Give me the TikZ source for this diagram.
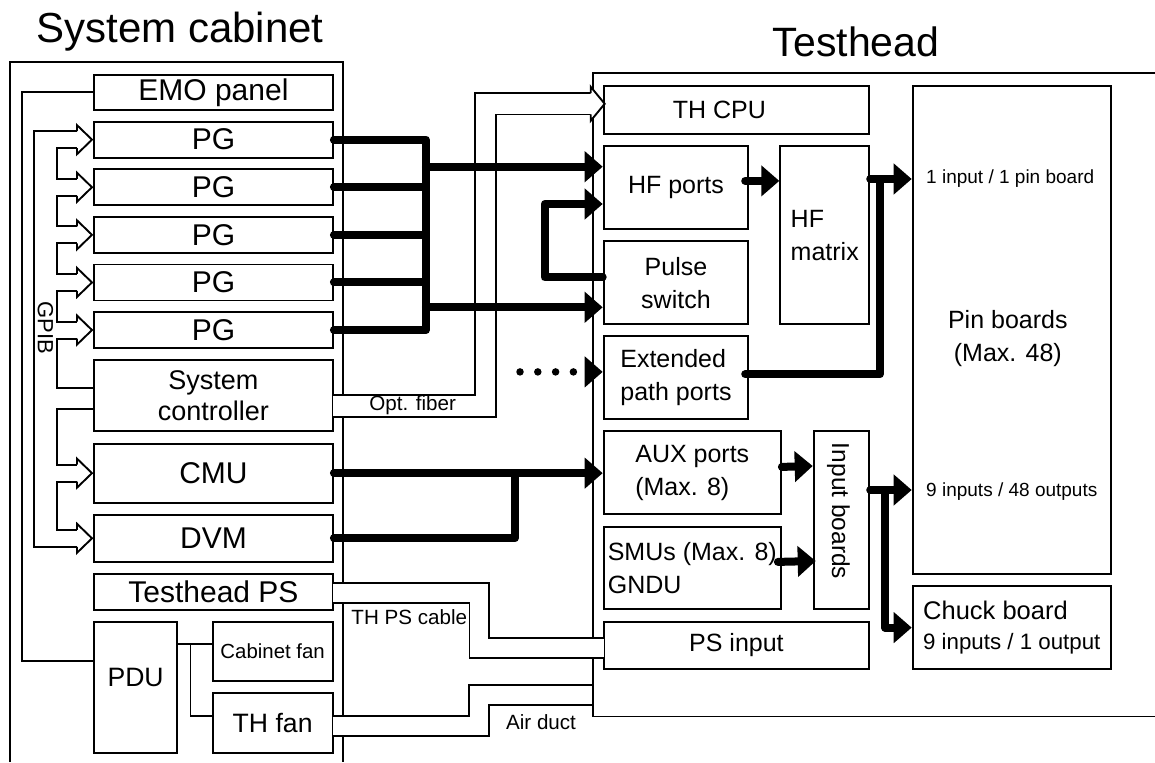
\documentclass[tikz,border=0pt]{standalone}
\usepackage{fontspec}
\setmainfont{Liberation Sans}
\usetikzlibrary{arrows.meta,calc,positioning}

\begin{document}
\begin{tikzpicture}[
  x=1pt, y=-1pt,
  box/.style={draw, line width=1.9pt, inner sep=0pt, anchor=north west, align=center},
  bigtext/.style={font=\fontsize{30}{34}\selectfont},
  midtext/.style={font=\fontsize{25}{33}\selectfont},
  cabletext/.style={font=\fontsize{20.6}{24}\selectfont},
  pintext/.style={font=\fontsize{19}{22}\selectfont},
  wire/.style={line width=1.9pt},
  bus/.style={line width=8pt, line cap=round, line join=round},
  busarrow/.style={bus, -{Triangle[length=18pt, width=30pt]}},
  cable/.style={line width=1.9pt, double, double distance=18pt, line join=miter}
]
  \useasboundingbox (0,0) rectangle (1155,762);

  \node[font=\fontsize{42}{48}\selectfont, anchor=base] (cabtitle) at (180,43) {System cabinet};
  \node[font=\fontsize{41}{48}\selectfont, anchor=base] (thtitle) at (856,57) {Testhead};

  % system cabinet
  \node[box, bigtext, minimum width=239pt, minimum height=35pt] (emo) at (93,74) {EMO panel};
  \foreach \i in {1,...,5}
    \node[box, bigtext, minimum width=239pt, minimum height=36pt] (pg\i) at (93,73.1+47.6*\i) {PG};
  \node[box, font=\fontsize{27}{31.6}\selectfont, minimum width=239pt, minimum height=70.7pt] (sc) at (93,359.3) {System\\controller};
  \node[box, bigtext, minimum width=239pt, minimum height=59pt] (cmu) at (93,442.7) {CMU};
  \node[box, bigtext, minimum width=239pt, minimum height=46.7pt] (dvm) at (93,514) {DVM};
  \node[box, bigtext, minimum width=239pt, minimum height=36pt] (thps) at (93,572.7) {Testhead PS};
  \node[box, minimum width=83.3pt, minimum height=131pt] (pdu) at (93,620.7) {};
  \node[font=\fontsize{26.6}{30}\selectfont] (pdutext) at ($(pdu.center)+(0,-10)$) {PDU};
  \node[box, font=\fontsize{20.4}{24}\selectfont, minimum width=120pt, minimum height=59.3pt] (cabfan) at (211.7,620.7) {Cabinet fan};
  \node[box, font=\fontsize{26.6}{30}\selectfont, minimum width=120pt, minimum height=59.4pt] (thfan) at (211.7,692.3) {TH fan};

  % testhead
  \node[box, minimum width=265.6pt, minimum height=47.7pt] (thcpu) at (602.7,85) {};
  \node[midtext] (thcputext) at ($(thcpu.center)+(-17,0)$) {TH CPU};
  \node[box, midtext, minimum width=144.6pt, minimum height=83.3pt] (hfports) at (602.7,145) {HF ports};
  \node[box, midtext, align=left, minimum width=89pt, minimum height=178.3pt] (hfmatrix) at (779.3,145) {HF\\matrix};
  \node[box, midtext, minimum width=144.6pt, minimum height=83.3pt] (pulse) at (602.7,240) {Pulse\\switch};
  \node[box, midtext, align=left, minimum width=144.6pt, minimum height=83.3pt] (extports) at (602.7,335) {Extended\\path ports};
  \node[box, midtext, align=left, minimum width=177.3pt, minimum height=83.3pt] (auxports) at (602.7,430) {AUX ports\\(Max. 8)};
  \node[box, midtext, align=left, minimum width=177.3pt, minimum height=82.3pt] (smus) at (602.7,526) {SMUs (Max. 8)\\GNDU};
  \node[box, minimum width=55.6pt, minimum height=178.3pt] (inboards) at (812.7,430) {};
  \node[font=\fontsize{24.5}{30}\selectfont, rotate=-90] (inboardstext) at ($(inboards.center)+(-3,-9)$) {Input boards};
  \node[box, midtext, minimum width=265.6pt, minimum height=47.6pt] (psinput) at (602.7,620.7) {PS input};
  \node[box, minimum width=198.3pt, minimum height=488.3pt] (pinboards) at (911.7,85) {};
  \node[midtext, align=center] (pintitle) at ($(pinboards.center)+(-4,8)$) {Pin boards\\(Max. 48)};
  \node[box, font=\fontsize{25.5}{30}\selectfont, align=left, minimum width=198.3pt, minimum height=83.3pt] (chuck) at (911.7,585)
    {Chuck board\\{\fontsize{22.3}{30}\selectfont 9 inputs / 1 output}};
  \node[pintext, anchor=west] (onepin) at ($(pinboards.north west)+(11,93.3)$) {1 input / 1 pin board};
  \node[pintext, anchor=west] (ninepin) at ($(pinboards.north west)+(11,406.7)$) {9 inputs / 48 outputs};

  % frames and cables
  \draw[wire] (10,762) -- (10,62) -- (342.7,62) -- (342.7,762);
  \draw[cable] ($(thfan.east)+(-1,3)$) -- ++(146.5,0) |- ($(psinput.west)+(-10.8,49.5)$);
  \draw[wire] (1160,73.3) -- (592.7,73.3) -- (592.7,716.5) -- (1160,716.5);
  \draw[cable] ($(thps.east)+(-1,1.3)$) -- ++(146.5,0) |- ($(psinput.west)+(1.2,2.8)$);
  \draw[cable, double distance=19.5pt] ($(sc.east)+(-1,10.3)$) -- ++(152.5,0) |- ($(thcpu.west)+(-12,-6)$);
  \fill[white] ($(thcpu.west)+(-12,-23)$) -- ($(thcpu.west)+(2,-6)$) -- ($(thcpu.west)+(-12,11)$) -- cycle;
  \draw[wire, line join=miter] ($(thcpu.west)+(-12,-16.7)$) -- ++(0,-6.3) -- ($(thcpu.west)+(2,-6)$)
    -- ($(thcpu.west)+(-12,11)$) -- ++(0,-6.3);
  \node[cabletext] (fibertext) at ($(sc.east)+(78.8,9.8)$) {Opt. fiber};
  \node[cabletext, anchor=west] (pscabletext) at ($(thps.east)+(14,25.3)$) {TH PS cable};
  \node[cabletext, anchor=west] (ducttext) at ($(thfan.east)+(169,-1.3)$) {Air duct};

  % GPIB
  \draw[wire] ($(pg1.west)+(-16,-8.5)$) -| ($(dvm.west)+(-59,8.5)$) -- ($(dvm.west)+(-16,8.5)$);
  \foreach \a/\b in {pg1/pg2,pg2/pg3,pg3/pg4,pg4/pg5,cmu/dvm}
    \draw[wire] ($(\a.west)+(-16,8.5)$) -- ++(-20,0) |- ($(\b.west)+(-16,-8.5)$);
  \draw[wire] ($(pg5.west)+(-16,8.5)$) -- ++(-20,0) |- ($(sc.west)+(0,-8)$);
  \draw[wire] ($(sc.west)+(0,13.5)$) -| ($(cmu.west)+(-36,-8.5)$) -- ++(20,0);
  \foreach \n in {pg1,pg2,pg3,pg4,pg5,cmu,dvm}
    \draw[wire, line join=miter] ($(\n.west)+(-16,-8.5)$) -- ++(0,-6) -- ($(\n.west)+(-1,0)$)
      -- ($(\n.west)+(-16,14.5)$) -- ++(0,-6);
  \node[font=\fontsize{22}{26}\selectfont, rotate=-90] (gpib) at (45.5,328) {GPIB};

  % power
  \draw[wire] (emo.west) -| ($(pdu.west)+(-71,-26)$) -- ($(pdu.west)+(0,-26)$);
  \draw[wire] ($(pdu.north east)+(0,23.6)$) -- ($(cabfan.north west)+(0,23.6)$);
  \draw[wire] ($(pdu.north east)+(12.3,23.6)$) |- ($(thfan.north west)+(0,23.7)$);

  % signal paths
  \coordinate (pgbus) at ($(pg1.east)+(92,0)$);
  \coordinate (hfin) at ($(hfports.north west)+(0,21.7)$);
  \coordinate (pulsein) at ($(pulse.north west)+(0,67.3)$);
  \draw[bus] (pg1.east) -| (pgbus |- pg5.east) -- (pg5.east);
  \foreach \i in {2,3,4}
    \draw[bus] (pg\i.east) -- (pgbus |- pg\i.east);
  \draw[busarrow] (pgbus |- hfin) -- (hfin);
  \draw[busarrow] (pgbus |- pulsein) -- (pulsein);
  \draw[busarrow] ($(pulse.north west)+(0,37.3)$) -- ++(-58,0) |- ($(hfports.north west)+(0,59)$);
  \draw[busarrow] ($(hfports.east)+(-4,-6.7)$) -- ($(hfmatrix.west)+(0,-54.2)$);

  \coordinate (pinin) at ($(pinboards.north west)+(0,94)$);
  \draw[busarrow] ($(extports.east)+(-4,-3.4)$) -| ($(pinin)+(-31.7,0)$) -- (pinin);
  \draw[bus] ($(hfmatrix.north east)+(0,34)$) -- ($(pinin)+(-31.7,0)$);

  \coordinate (dotstart) at ($(extports.west)+(-82.7,-5.7)$);
  \draw[busarrow, line width=7.5pt, dash pattern=on 0pt off 17.8pt] (dotstart) -- (extports.west |- dotstart);

  \draw[busarrow] (cmu.east) -- (cmu.east -| auxports.west);
  \draw[bus] (dvm.east) -| ($(cmu.east)+(181,0)$);
  \draw[busarrow] ($(auxports.east)+(0,-5.7)$) -- ($(inboards.north west)+(0,36)$);
  \draw[busarrow] ($(smus.east)+(-4,-6.2)$) -- ($(inboards.north west)+(3,131)$);

  \coordinate (inout) at ($(inboards.north east)+(0,60)$);
  \draw[busarrow] (inout) -- (inout -| pinboards.west);
  \draw[busarrow] ($(inout)+(15,0)$) |- (chuck.west);
\end{tikzpicture}
\end{document}
